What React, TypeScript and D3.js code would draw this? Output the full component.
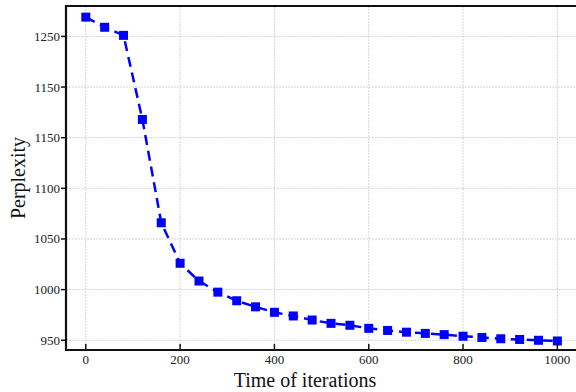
import React from "react";
import * as d3 from "d3";

const iterations = [0, 40, 80, 120, 160, 200, 240, 280, 320, 360, 400, 440, 480, 520, 560, 600, 640, 680, 720, 760, 800, 840, 880, 920, 960, 1000];
const perplexity = [1269, 1259, 1251, 1168, 1066, 1026, 1008.5, 997.5, 989, 983, 977.6, 974, 970, 966.7, 964.8, 961.8, 959.7, 958, 956.8, 955.6, 954, 952.8, 951.5, 950.8, 950, 949.3];
const xTicks = [0, 200, 400, 600, 800, 1000];
const yTicks = [950, 1000, 1050, 1100, 1150, 1200, 1250];
const yTickLabels = ["950", "1000", "1050", "1100", "1150", "1150", "1250"];

const W = 576, H = 392;
const L = 66, R = 580, T = 6, B = 350;
const font = "'Liberation Serif', 'DejaVu Serif', serif";

export default function App() {
  const x = d3.scaleLinear().domain([-42, 1048]).range([L, R]);
  const y = d3.scaleLinear().domain([940.4, 1280]).range([B, T]);
  const line = d3.line<number>().x((_, i) => x(iterations[i])).y((d) => y(d));
  return (
    <svg width={W} height={H} style={{ position: "absolute", left: 0, top: 0 }}>
      <rect width={W} height={H} fill="#fff" />
      {xTicks.map((t) => (
        <line key={"gx" + t} x1={x(t)} x2={x(t)} y1={T} y2={B} stroke="#d4d4d4" strokeWidth={1} strokeDasharray="2,1" />
      ))}
      {yTicks.map((t) => (
        <line key={"gy" + t} x1={L} x2={W} y1={y(t)} y2={y(t)} stroke="#d4d4d4" strokeWidth={1} strokeDasharray="2,1" />
      ))}
      <path d={line(perplexity) || ""} fill="none" stroke="#0000ff" strokeWidth={2.5} strokeDasharray="10,6" />
      {perplexity.map((v, i) => (
        <rect key={i} x={x(iterations[i]) - 4.5} y={y(v) - 4.5} width={9} height={9} fill="#0000ff" />
      ))}
      <line x1={L} x2={W} y1={T} y2={T} stroke="#111" strokeWidth={2.2} />
      <line x1={L} x2={W} y1={B} y2={B} stroke="#111" strokeWidth={2.2} />
      <line x1={L} x2={L} y1={T - 1} y2={B + 1} stroke="#111" strokeWidth={2.2} />
      {xTicks.map((t) => (
        <g key={"xt" + t}>
          <line x1={x(t)} x2={x(t)} y1={B} y2={B - 6} stroke="#111" strokeWidth={1.5} />
          <text x={x(t)} y={B + 14} textAnchor="middle" fontFamily={font} fontSize={13} fill="#222">{t}</text>
        </g>
      ))}
      {yTicks.map((t, i) => (
        <g key={"yt" + t}>
          <line x1={L} x2={L - 5} y1={y(t)} y2={y(t)} stroke="#111" strokeWidth={1.5} />
          <text x={L - 6} y={y(t) + 4.5} textAnchor="end" fontFamily={font} fontSize={13} fill="#222">{yTickLabels[i]}</text>
        </g>
      ))}
      <text x={305} y={387} textAnchor="middle" fontFamily={font} fontSize={20} fill="#111">Time of iterations</text>
      <text transform={`translate(25,${(T + B) / 2}) rotate(-90)`} textAnchor="middle" fontFamily={font} fontSize={20} fill="#111">Perplexity</text>
    </svg>
  );
}
